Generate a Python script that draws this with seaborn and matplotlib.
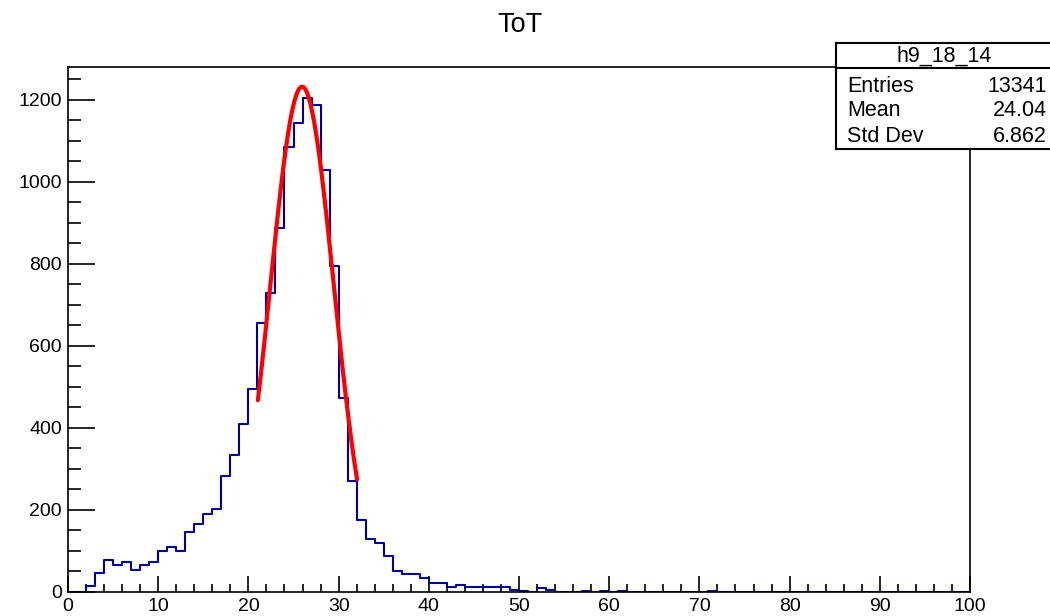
import numpy as np
import pandas as pd
import matplotlib
matplotlib.use("Agg")
import matplotlib.pyplot as plt
import seaborn as sns

# ---------------- data ----------------
bin_edges_lo = list(range(0, 100))
counts = [0, 0, 15, 47, 78, 67, 74, 54, 67, 73,
          100, 109, 100, 146, 167, 191, 202, 284, 334, 410,
          494, 657, 728, 887, 1086, 1143, 1204, 1188, 1028, 795,
          474, 271, 176, 129, 119, 88, 52, 44, 44, 33,
          23, 23, 13, 17, 11, 11, 11, 11, 11, 4,
          3, 0, 10, 4, 0, 0, 0, 3, 0, 3,
          0, 2, 0, 0, 0, 0, 0, 0, 0, 0,
          0, 2, 0, 0, 0, 0, 0, 0, 0, 0,
          0, 0, 0, 0, 0, 0, 0, 0, 0, 0,
          0, 0, 0, 0, 0, 0, 0, 0, 0, 0]

# Gaussian fit parameters (constant, mean, sigma) and fit range
fit_const = 1232.0
fit_mean = 25.95
fit_sigma = 3.52
fit_range = [21.05, 32.05]

title = "ToT"
hist_name = "h9_18_14"
stat_labels = ["Entries", "Mean", "Std Dev"]
stat_values = ["13341", "24.04", "6.862"]

# ---------------- figure ----------------
sns.set_theme(style="white")
plt.rcParams["font.family"] = ["Liberation Sans", "DejaVu Sans"]

W, H = 1050, 616
fig = plt.figure(figsize=(W / 100, H / 100), dpi=100)
fig.patch.set_facecolor("white")

L, R, T, B = 68, 970, 67, 592
ax = fig.add_axes([L / W, 1 - B / H, (R - L) / W, (B - T) / H])
ax.set_facecolor("white")

df = pd.DataFrame({"x": np.array(bin_edges_lo, dtype=float) + 0.5,
                   "w": np.array(counts, dtype=float)})
sns.histplot(data=df, x="x", weights="w", binwidth=1, binrange=(0, 100),
             element="step", fill=False, color="#000099", linewidth=1.5,
             ax=ax)

xf = np.linspace(fit_range[0], fit_range[1], 300)
yf = fit_const * np.exp(-0.5 * ((xf - fit_mean) / fit_sigma) ** 2)
sns.lineplot(x=xf, y=yf, color="#ff0000", linewidth=3.0, ax=ax,
             estimator=None, sort=False)

ax.set_xlim(0, 100)
ax.set_ylim(0, 1280)
ax.set_xlabel("")
ax.set_ylabel("")
ax.set_xticks(np.arange(0, 101, 10))
ax.set_xticks(np.arange(0, 101, 2), minor=True)
ax.set_yticks(np.arange(0, 1201, 200))
ax.set_yticks(np.arange(0, 1251, 50), minor=True)
ax.tick_params(axis="x", which="major", direction="in", length=11.3, width=1.2,
               colors="black", labelsize=14, pad=4, bottom=True, top=False)
ax.tick_params(axis="x", which="minor", direction="in", length=5.7, width=1.2,
               colors="black", bottom=True, top=False)
ax.tick_params(axis="y", which="major", direction="in", length=19.4, width=1.2,
               colors="black", labelsize=14, pad=4.5, left=True, right=False)
ax.tick_params(axis="y", which="minor", direction="in", length=9.7, width=1.2,
               colors="black", left=True, right=False)
for s in ax.spines.values():
    s.set_visible(True)
    s.set_color("black")
    s.set_linewidth(1.2)

fig.text(520 / W, 1 - 25 / H, title, ha="center", va="center",
         fontsize=19.5, color="black")

# ---------------- stats box ----------------
bx0, bx1, by0, by1 = 836, 1054, 43, 149
sax = fig.add_axes([bx0 / W, 1 - by1 / H, (bx1 - bx0) / W, (by1 - by0) / H])
sax.set_xlim(bx0, bx1)
sax.set_ylim(by1, by0)
sax.set_xticks([])
sax.set_yticks([])
sax.set_facecolor("white")
for s in sax.spines.values():
    s.set_color("black")
    s.set_linewidth(1.5)
sax.plot([bx0, bx1], [68, 68], color="black", linewidth=1.5)
sax.text((bx0 + bx1) / 2 - 1, 56, hist_name, ha="center", va="center",
         fontsize=15.5, color="black")
row_y = [86, 111, 137]
for lab, val, yy in zip(stat_labels, stat_values, row_y):
    sax.text(847, yy, lab, ha="left", va="center", fontsize=15.5, color="black")
    sax.text(1047, yy, val, ha="right", va="center", fontsize=15.5, color="black")

fig.savefig("out.png", dpi=100, facecolor="white")
